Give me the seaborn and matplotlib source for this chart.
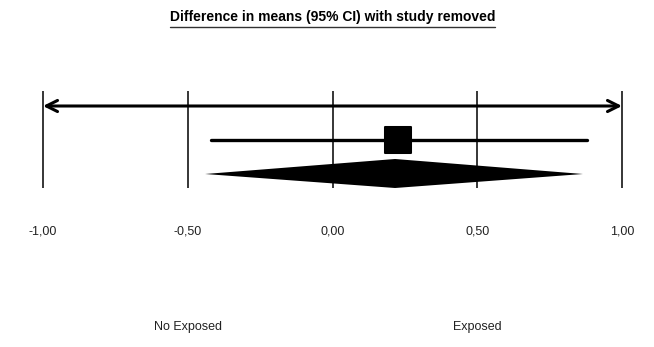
import matplotlib
matplotlib.use("Agg")
import matplotlib.pyplot as plt
import seaborn as sns
import pandas as pd

# valores
ticks = [-1.0, -0.5, 0.0, 0.5, 1.0]
tick_labels = ["-1,00", "-0,50", "0,00", "0,50", "1,00"]
study_est = [0.226]
study_low = [-0.42]
study_high = [0.88]
pooled_low = -0.44
pooled_est = 0.216
pooled_high = 0.865
side_labels = ["No Exposed", "Exposed"]
side_pos = [-0.5, 0.5]
title = "Difference in means (95% CI) with study removed"

sns.set_style("white")
plt.rcParams["font.family"] = ["Liberation Sans", "DejaVu Sans"]
narrow = ["Liberation Sans Narrow", "Liberation Sans", "DejaVu Sans"]

fig = plt.figure(figsize=(6.54, 3.47), dpi=100)
ax = fig.add_axes([0, 0, 1, 1])
ax.set_xlim(-1.1485, 1.1105)
ax.set_ylim(347, 0)

# filas (en pixeles)
y_top, y_bot = 91, 188
y_arrow, y_ci, y_diam = 106, 140, 174

# lineas verticales de referencia
ax.vlines(ticks, y_top, y_bot, color="black", lw=1.1)

# flecha de escala
ax.annotate("", xy=(ticks[0], y_arrow), xytext=(ticks[-1], y_arrow),
            arrowprops=dict(arrowstyle="<->,head_length=0.8,head_width=0.4",
                            color="black", lw=2.2, shrinkA=0, shrinkB=0))

# intervalo del estudio
df = pd.DataFrame({"x": [study_low[0], study_high[0]], "y": [y_ci, y_ci]})
sns.lineplot(data=df, x="x", y="y", color="black", lw=2.4, ax=ax, legend=False)
pt = pd.DataFrame({"x": study_est, "y": [y_ci]})
sns.scatterplot(data=pt, x="x", y="y", marker="s", s=340, color="black",
                edgecolor="black", ax=ax, legend=False, zorder=5)

# diamante combinado
ax.fill([pooled_low, pooled_est, pooled_high, pooled_est],
        [y_diam, y_diam - 15, y_diam, y_diam + 14], color="black", lw=0)

ax.set_xlabel("")
ax.set_ylabel("")
ax.axis("off")

for t, lab in zip(ticks, tick_labels):
    ax.text(t, 231, lab, ha="center", va="center", fontsize=9,
            family=narrow, color="#222222")

for p, lab in zip(side_pos, side_labels):
    ax.text(p, 327, lab, ha="center", va="center", fontsize=9,
            family=narrow, color="#222222")

tt = ax.text(0, 17, title, ha="center", va="center", fontsize=10,
             weight="bold", color="black")
fig.canvas.draw()
bb = tt.get_window_extent().transformed(ax.transData.inverted())
ax.plot([bb.x0, bb.x1], [27, 27], color="#333333", lw=1.0)

fig.savefig("out.png", dpi=100)
